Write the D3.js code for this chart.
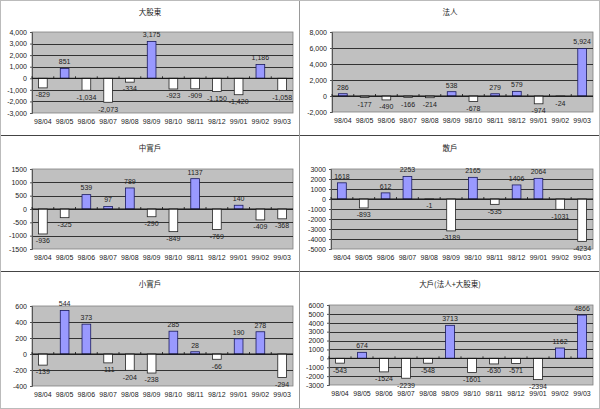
<!DOCTYPE html>
<html><head><meta charset="utf-8">
<script src="https://cdn.jsdelivr.net/npm/d3@7"></script>
<style>
body{margin:0;background:#fff}
svg text{font-family:"Liberation Sans Narrow","Liberation Sans",Arial,sans-serif;fill:#222}
</style>
</head><body><svg id="c" width="600" height="409"></svg>
<script>
const months = ["98/04","98/05","98/06","98/07","98/08","98/09","98/10","98/11","98/12","99/01","99/02","99/03"];
const titles = ["大股東","法人","中實戶","散戶","小實戶","大戶(法人+大股東)"];
const bigHolder = [-829, 851, -1034, -2073, -334, 3175, -923, -909, -1150, -1420, 1186, -1058];
const institution = [286, -177, -490, -166, -214, 538, -678, 279, 579, -974, -24, 5924];
const midInvestor = [-936, -325, 539, 97, 789, -290, -849, 1137, -769, 140, -409, -368];
const retail = [1618, -893, 612, 2253, -1, -3189, 2165, -535, 1406, 2064, -1031, -4234];
const smallInvestor = [-139, 544, 373, -111, -204, -238, 285, 28, -66, 190, 278, -294];
const bigPlayer = [-543, 674, -1524, -2239, -548, 3713, -1601, -630, -571, -2394, 1162, 4866];
const ticksBigHolder = [-3000,-2000,-1000,0,1000,2000,3000,4000];
const ticksInstitution = [-2000,0,2000,4000,6000,8000];
const ticksMid = [-1500,-1000,-500,0,500,1000,1500];
const ticksRetail = [-5000,-4000,-3000,-2000,-1000,0,1000,2000,3000];
const ticksSmall = [-400,-200,0,200,400,600];
const ticksBig = [-3000,-2000,-1000,0,1000,2000,3000,4000,5000,6000];

const series = [bigHolder, institution, midInvestor, retail, smallInvestor, bigPlayer];
const tickSets = [ticksBigHolder, ticksInstitution, ticksMid, ticksRetail, ticksSmall, ticksBig];
const useComma = [true, true, false, false, false, false];

// layout
const layout = [
  {ox:0,   oy:0,   l:32,  r:293, t:32,  b:113},
  {ox:300, oy:0,   l:332, r:593, t:32,  b:112},
  {ox:0,   oy:136, l:32,  r:293, t:169, b:249},
  {ox:300, oy:136, l:331, r:593, t:169, b:249},
  {ox:0,   oy:272, l:32,  r:293, t:306, b:386},
  {ox:300, oy:272, l:329, r:593, t:305, b:385}
];

const loc = d3.formatLocale({decimal: ".", thousands: ",", grouping: [3], currency: ["", ""], minus: "-"});
const svg = d3.select("#c");
const FS = 7;

layout.forEach((L, i) => {
  const data = series[i];
  const ticks = tickSets[i];
  const fmt = useComma[i] ? loc.format(",") : loc.format("d");
  const g = svg.append("g");
  const y = d3.scaleLinear().domain([ticks[0], ticks[ticks.length-1]]).range([L.b, L.t]);
  const x = d3.scaleBand().domain(months).range([L.l, L.r]).paddingInner(0.6).paddingOuter(0.3);
  const xc = d3.scaleBand().domain(months).range([L.l, L.r]).padding(0);

  // title
  g.append("text").attr("x", (L.ox + 150)).attr("y", L.oy + 13)
    .attr("text-anchor","middle").attr("dominant-baseline","middle")
    .style("font-family","'Noto Sans CJK TC','Noto Sans CJK SC',sans-serif")
    .style("font-size","7.5px").text(titles[i]);

  // plot area
  g.append("rect").attr("x", L.l).attr("y", L.t).attr("width", L.r - L.l).attr("height", L.b - L.t)
    .attr("fill", "#c0c0c0").attr("stroke", "#808080").attr("stroke-width", 0.8);

  // gridlines
  g.selectAll("line.grid").data(ticks.slice(1, -1)).join("line").attr("class","grid")
    .attr("x1", L.l).attr("x2", L.r).attr("y1", d => Math.round(y(d)) + 0.5).attr("y2", d => Math.round(y(d)) + 0.5)
    .attr("stroke", "#222").attr("stroke-width", 0.9);

  // y axis
  const ya = g.append("g").attr("transform", `translate(${L.l},0)`)
    .call(d3.axisLeft(y).tickValues(ticks).tickFormat(fmt).tickSize(2).tickPadding(3));
  ya.select(".domain").attr("stroke", "#555");
  ya.selectAll(".tick line").attr("stroke", "#555");
  ya.selectAll("text").style("font-size", FS + "px").attr("fill", "#222");

  // bars
  const y0 = y(0);
  g.selectAll("rect.bar").data(data).join("rect").attr("class","bar")
    .attr("x", (d, j) => x(months[j]))
    .attr("width", x.bandwidth())
    .attr("y", d => d >= 0 ? y(d) : y0)
    .attr("height", d => Math.abs(y(d) - y0))
    .attr("fill", d => d >= 0 ? "#9999ff" : "#ffffff")
    .attr("stroke", d => d >= 0 ? "#1a1a60" : "#222")
    .attr("stroke-width", 0.8);

  // zero axis line with category ticks
  g.append("line").attr("x1", L.l).attr("x2", L.r).attr("y1", y0).attr("y2", y0)
    .attr("stroke", "#111").attr("stroke-width", 1);
  g.selectAll("line.ct").data(months).join("line").attr("class","ct")
    .attr("x1", d => xc(d)).attr("x2", d => xc(d)).attr("y1", y0 - 2).attr("y2", y0)
    .attr("stroke", "#111").attr("stroke-width", 0.8);

  // data labels
  g.selectAll("text.lab").data(data).join("text").attr("class","lab")
    .attr("x", (d, j) => x(months[j]) + x.bandwidth() / 2)
    .attr("y", d => d >= 0 ? y(d) - 6 : y(d) + 7.5)
    .attr("text-anchor","middle").attr("dominant-baseline","middle")
    .style("font-size", FS + "px").text(d => fmt(d));

  // x axis labels
  const xa = g.append("g").attr("transform", `translate(0,${L.b + 5})`)
    .call(d3.axisBottom(xc).tickSize(0).tickPadding(1));
  xa.select(".domain").remove();
  xa.selectAll("text").style("font-size", FS + "px").attr("fill", "#222");
});

// panel separators
svg.append("line").attr("x1",0).attr("x2",600).attr("y1",135.5).attr("y2",135.5).attr("stroke","#444");
svg.append("line").attr("x1",0).attr("x2",600).attr("y1",271.5).attr("y2",271.5).attr("stroke","#444");
svg.append("line").attr("x1",299.5).attr("x2",299.5).attr("y1",0).attr("y2",409).attr("stroke","#999");
svg.append("rect").attr("x",0.5).attr("y",0.5).attr("width",599).attr("height",408).attr("fill","none").attr("stroke","#bbb");
</script>
</body></html>
